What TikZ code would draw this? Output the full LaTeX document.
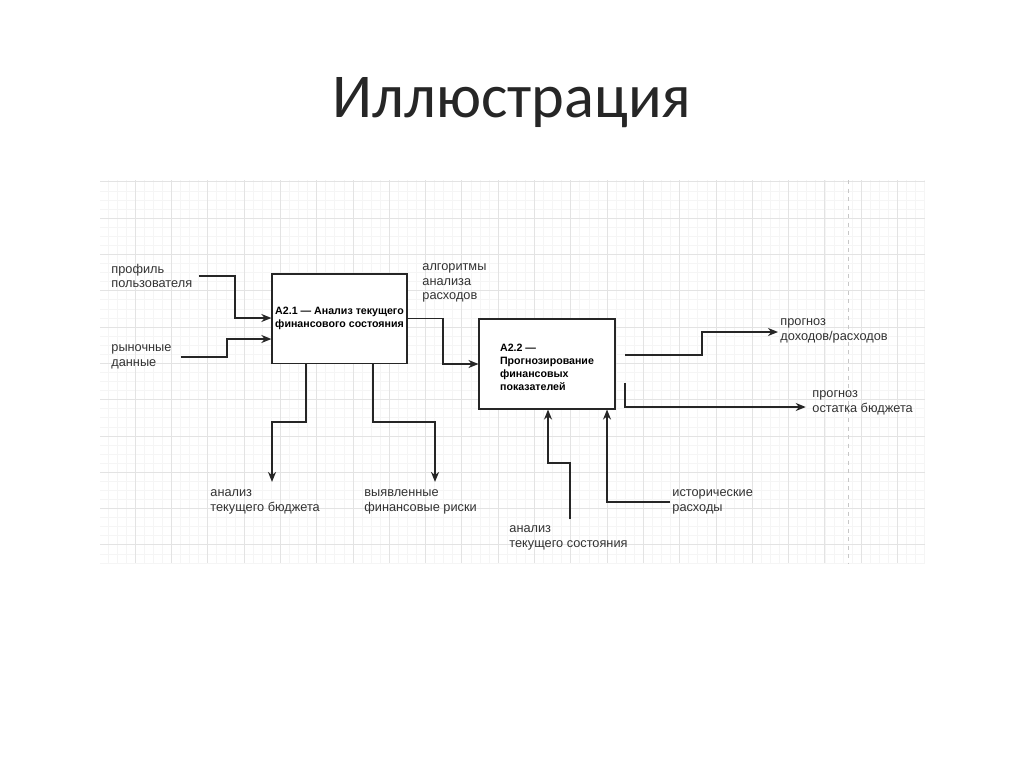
\documentclass[tikz,border=0pt]{standalone}
\usepackage{fontspec}
\setmainfont{Liberation Sans}
\newfontfamily\titlefont{Carlito}
\usetikzlibrary{arrows.meta}

\begin{document}
\begin{tikzpicture}[x=0.0248cm, y=-0.0248cm]

% Define grid spacing (slide pixels)
\def\minor{9.075}
\def\major{36.3}
% Define styles
\tikzset{
    minorline/.style={line width=0.3pt, draw=black!4},
    majorline/.style={line width=0.4pt, draw=black!11},
    box/.style={draw=black!85, line width=0.8pt, fill=white, align=center,
        font=\bfseries\fontsize{7.5}{9}\selectfont, inner sep=1pt},
    lbl/.style={anchor=west, align=left, inner sep=1.5pt,
        font=\fontsize{9}{10.2}\selectfont, text=black!80},
    flow/.style={line width=0.9pt, draw=black!85, -{Stealth[length=2.5mm, width=2mm]}}
}

\useasboundingbox (0,0) rectangle (1024,767);
\fill[white] (0,0) rectangle (1024,767);

% Title
\node[anchor=base, text=black!85, font=\titlefont\fontsize{44}{50}\selectfont] (title) at (512,117) {Иллюстрация};

% Grid background
\foreach \k in {-3,...,87} \draw[minorline] ({135+\minor*\k},180) -- ({135+\minor*\k},563);
\foreach \k in {-4,...,38} \draw[minorline] (100,{218+\minor*\k}) -- (925,{218+\minor*\k});
\foreach \k in {0,...,21} \draw[majorline] ({135+\major*\k},180) -- ({135+\major*\k},563);
\foreach \k in {-1,...,9} \draw[majorline] (100,{218+\major*\k}) -- (925,{218+\major*\k});
\draw[dashed, black!22] (848,180) -- (848,563); % page border

% Function blocks
\node[box, minimum width=3.35cm, minimum height=2.21cm] (a21) at (339.5,318.5) {А2.1 — Анализ текущего\\финансового состояния};
\node[box, minimum width=3.37cm, minimum height=2.23cm, align=left] (a22) at (547,364) {\rule{0pt}{10pt}А2.2 —\\Прогнозирование\\финансовых\\показателей};

% Labels
\node[lbl] (prof) at (109,276) {профиль\\пользователя};
\node[lbl] (mkt) at (109,357) {рыночные\\данные};
\node[lbl] (algo) at (420,283) {алгоритмы\\анализа\\расходов};
\node[lbl] (fc1) at (778,331) {прогноз\\доходов/расходов};
\node[lbl] (fc2) at (810,403) {прогноз\\остатка бюджета};
\node[lbl] (bud) at (208,502) {анализ\\текущего бюджета};
\node[lbl] (risk) at (362,502) {выявленные\\финансовые риски};
\node[lbl] (state) at (507,538) {анализ\\текущего состояния};
\node[lbl] (hist) at (670,502) {исторические\\расходы};

% Ports on the right of A2.2
\coordinate (o1) at (625,355);
\coordinate (o2) at (625,383);

% Inputs
\draw[flow, shorten <=3pt] (prof.east) -| (235,318) -- (a21.west |- 0,318);
\draw[flow, shorten <=5pt] (mkt.east) -| (227,339) -- (a21.west |- 0,339);
% A2.1 -> A2.2
\draw[flow] (a21.east) -| (443,364) -- (a22.west);
% Outputs
\draw[flow] (o1) -| (702,332) -- (fc1.west |- 0,332);
\draw[flow, shorten >=3pt] (o2) |- (fc2.west |- 0,407);
\draw[flow, shorten >=4pt] (a21.south -| 306,0) |- (272,422) -- (bud.north -| 272,0);
\draw[flow, shorten >=4pt] (a21.south -| 373,0) |- (435,422) -- (risk.north -| 435,0);
% Controls from below
\draw[flow, shorten <=3pt] (state.north -| 570,0) |- (548,463) -- (a22.south -| 548,0);
\draw[flow] (hist.west) -| (a22.south -| 607,0);

\end{tikzpicture}
\end{document}
